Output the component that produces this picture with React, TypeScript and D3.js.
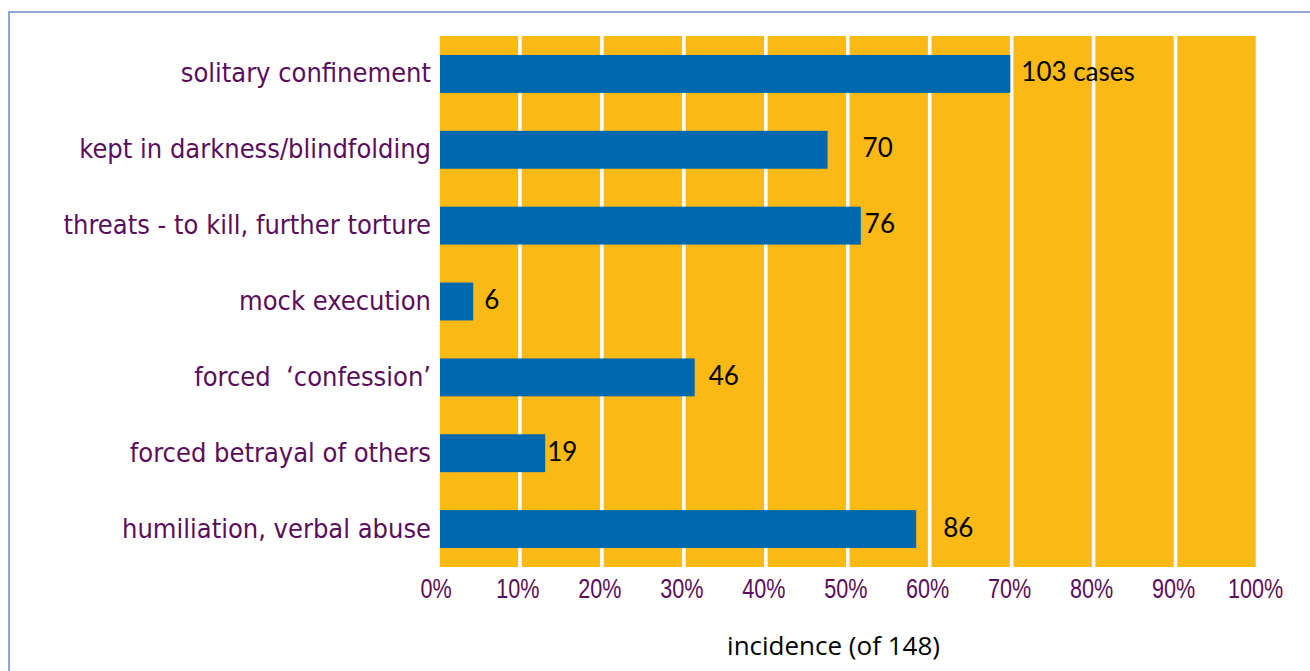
import React from "react";
import * as d3 from "d3";

const categories = [
  "solitary confinement",
  "kept in darkness/blindfolding",
  "threats - to kill, further torture",
  "mock execution",
  "forced  \u2018confession\u2019",
  "forced betrayal of others",
  "humiliation, verbal abuse",
];
const cases = [103, 70, 76, 6, 46, 19, 86];
const totalCases = 148;
const valueLabels = ["103 cases", "70", "76", "6", "46", "19", "86"];
const tickValues = [0, 0.1, 0.2, 0.3, 0.4, 0.5, 0.6, 0.7, 0.8, 0.9, 1];
const axisTitle = "incidence (of 148)";
// horizontal nudge of each value label from its bar end (px)
const labelNudge = [11, 35, 4, 11, 14, 2, 27];

const W = 1310;
const H = 671;
const ORANGE = "#FBB916";
const BLUE = "#0068AD";
const PURPLE = "#5A0D5C";
const BORDER = "#8FAAD2";

export default function App() {
  const x = d3.scaleLinear().domain([0, 1]).range([438, 1257.5]);
  const y = d3
    .scaleBand<number>()
    .domain(d3.range(categories.length))
    .range([36, 567])
    .paddingInner(0.5)
    .paddingOuter(0.25);
  const fmt = d3.format(".0%");
  const [y0, y1] = y.range();

  return (
    <svg
      width={W}
      height={H}
      style={{ position: "absolute", left: 0, top: 0, background: "#fff" }}
    >
      <path d={`M9,${H} V12 H${W}`} fill="none" stroke={BORDER} strokeWidth={2} />
      <rect x={x(0)} y={y0} width={x(1) - x(0)} height={y1 - y0} fill={ORANGE} />
      {tickValues.map((t) => (
        <line key={"g" + t} x1={x(t)} x2={x(t)} y1={y0} y2={y1} stroke="#fff" strokeWidth={3.6} />
      ))}
      {cases.map((c, i) => {
        const v = c / totalCases;
        const yc = (y(i) as number) + y.bandwidth() / 2;
        return (
          <g key={"b" + i}>
            <rect x={x(0) + 2} y={y(i)} width={x(v) - x(0)} height={y.bandwidth()} fill={BLUE} />
            <text
              x={x(v) + 2 + labelNudge[i]}
              y={yc + 7.5}
              fontFamily="Lato, 'Open Sans', sans-serif"
              fontSize={26}
              fill="#000"
            >
              {valueLabels[i]}
            </text>
            <text
              x={x(0) - 7}
              y={yc + 8.5}
              textAnchor="end"
              fontFamily="'DejaVu Sans Condensed', 'DejaVu Sans', sans-serif"
              fontSize={27}
              fill={PURPLE}
              style={{ whiteSpace: "pre" }}
            >
              {categories[i]}
            </text>
          </g>
        );
      })}
      {tickValues.map((t) => (
        <text
          key={"t" + t}
          transform={`translate(${x(t) - 2},598) scale(0.8,1)`}
          textAnchor="middle"
          fontFamily="'Liberation Sans', Arial, sans-serif"
          fontSize={27}
          fill={PURPLE}
        >
          {fmt(t)}
        </text>
      ))}
      <text
        x={833.5}
        y={655}
        textAnchor="middle"
        fontFamily="'Open Sans', sans-serif"
        fontSize={26}
        fill="#000"
      >
        {axisTitle}
      </text>
    </svg>
  );
}
